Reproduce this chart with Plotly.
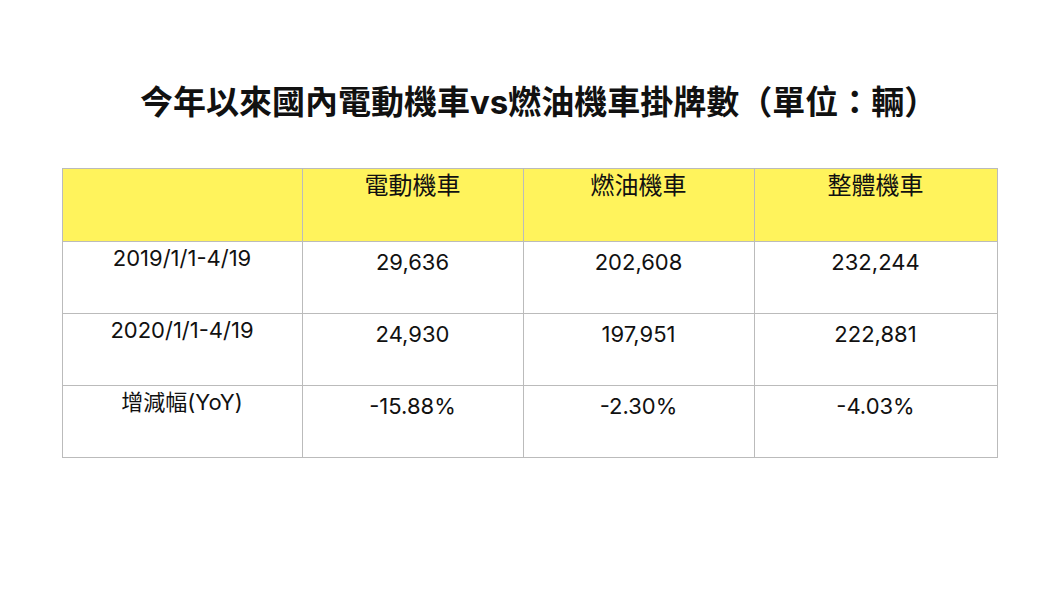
import plotly.graph_objects as go

title = "今年以來國內電動機車vs燃油機車掛牌數（單位：輛）"
headers = ["", "電動機車", "燃油機車", "整體機車"]
row_labels = ["2019/1/1-4/19", "2020/1/1-4/19", "增減幅(YoY)"]
electric = ["29,636", "24,930", "-15.88%"]
fuel = ["202,608", "197,951", "-2.30%"]
total = ["232,244", "222,881", "-4.03%"]

font = "Inter, Noto Sans CJK TC, sans-serif"
pad = "\u200b<br>"
fig = go.Figure(go.Table(
    columnwidth=[240, 221, 231, 243],
    header=dict(values=headers, fill_color="#FFF35C", line_color="#BBBBBB",
                align="center", height=73,
                font=dict(family=font, size=24, color="#111")),
    cells=dict(values=[row_labels,
                       [pad + v for v in electric],
                       [pad + v for v in fuel],
                       [pad + v for v in total]],
               fill_color="white", line_color="#BBBBBB", align="center", height=72,
               font=dict(family=font, size=22, color="#111")),
    domain=dict(x=[54/1060, 989/1060], y=[0.0, 1-160/596]),
))
fig.update_layout(
    width=1060, height=596, margin=dict(l=0, r=0, t=0, b=0),
    paper_bgcolor="white",
    annotations=[dict(text="<b>" + title + "</b>", x=0.5, y=1-72/596, xref="paper", yref="paper",
                      showarrow=False, font=dict(family=font, size=33, color="#111"))],
)
fig.write_html("out.html")
